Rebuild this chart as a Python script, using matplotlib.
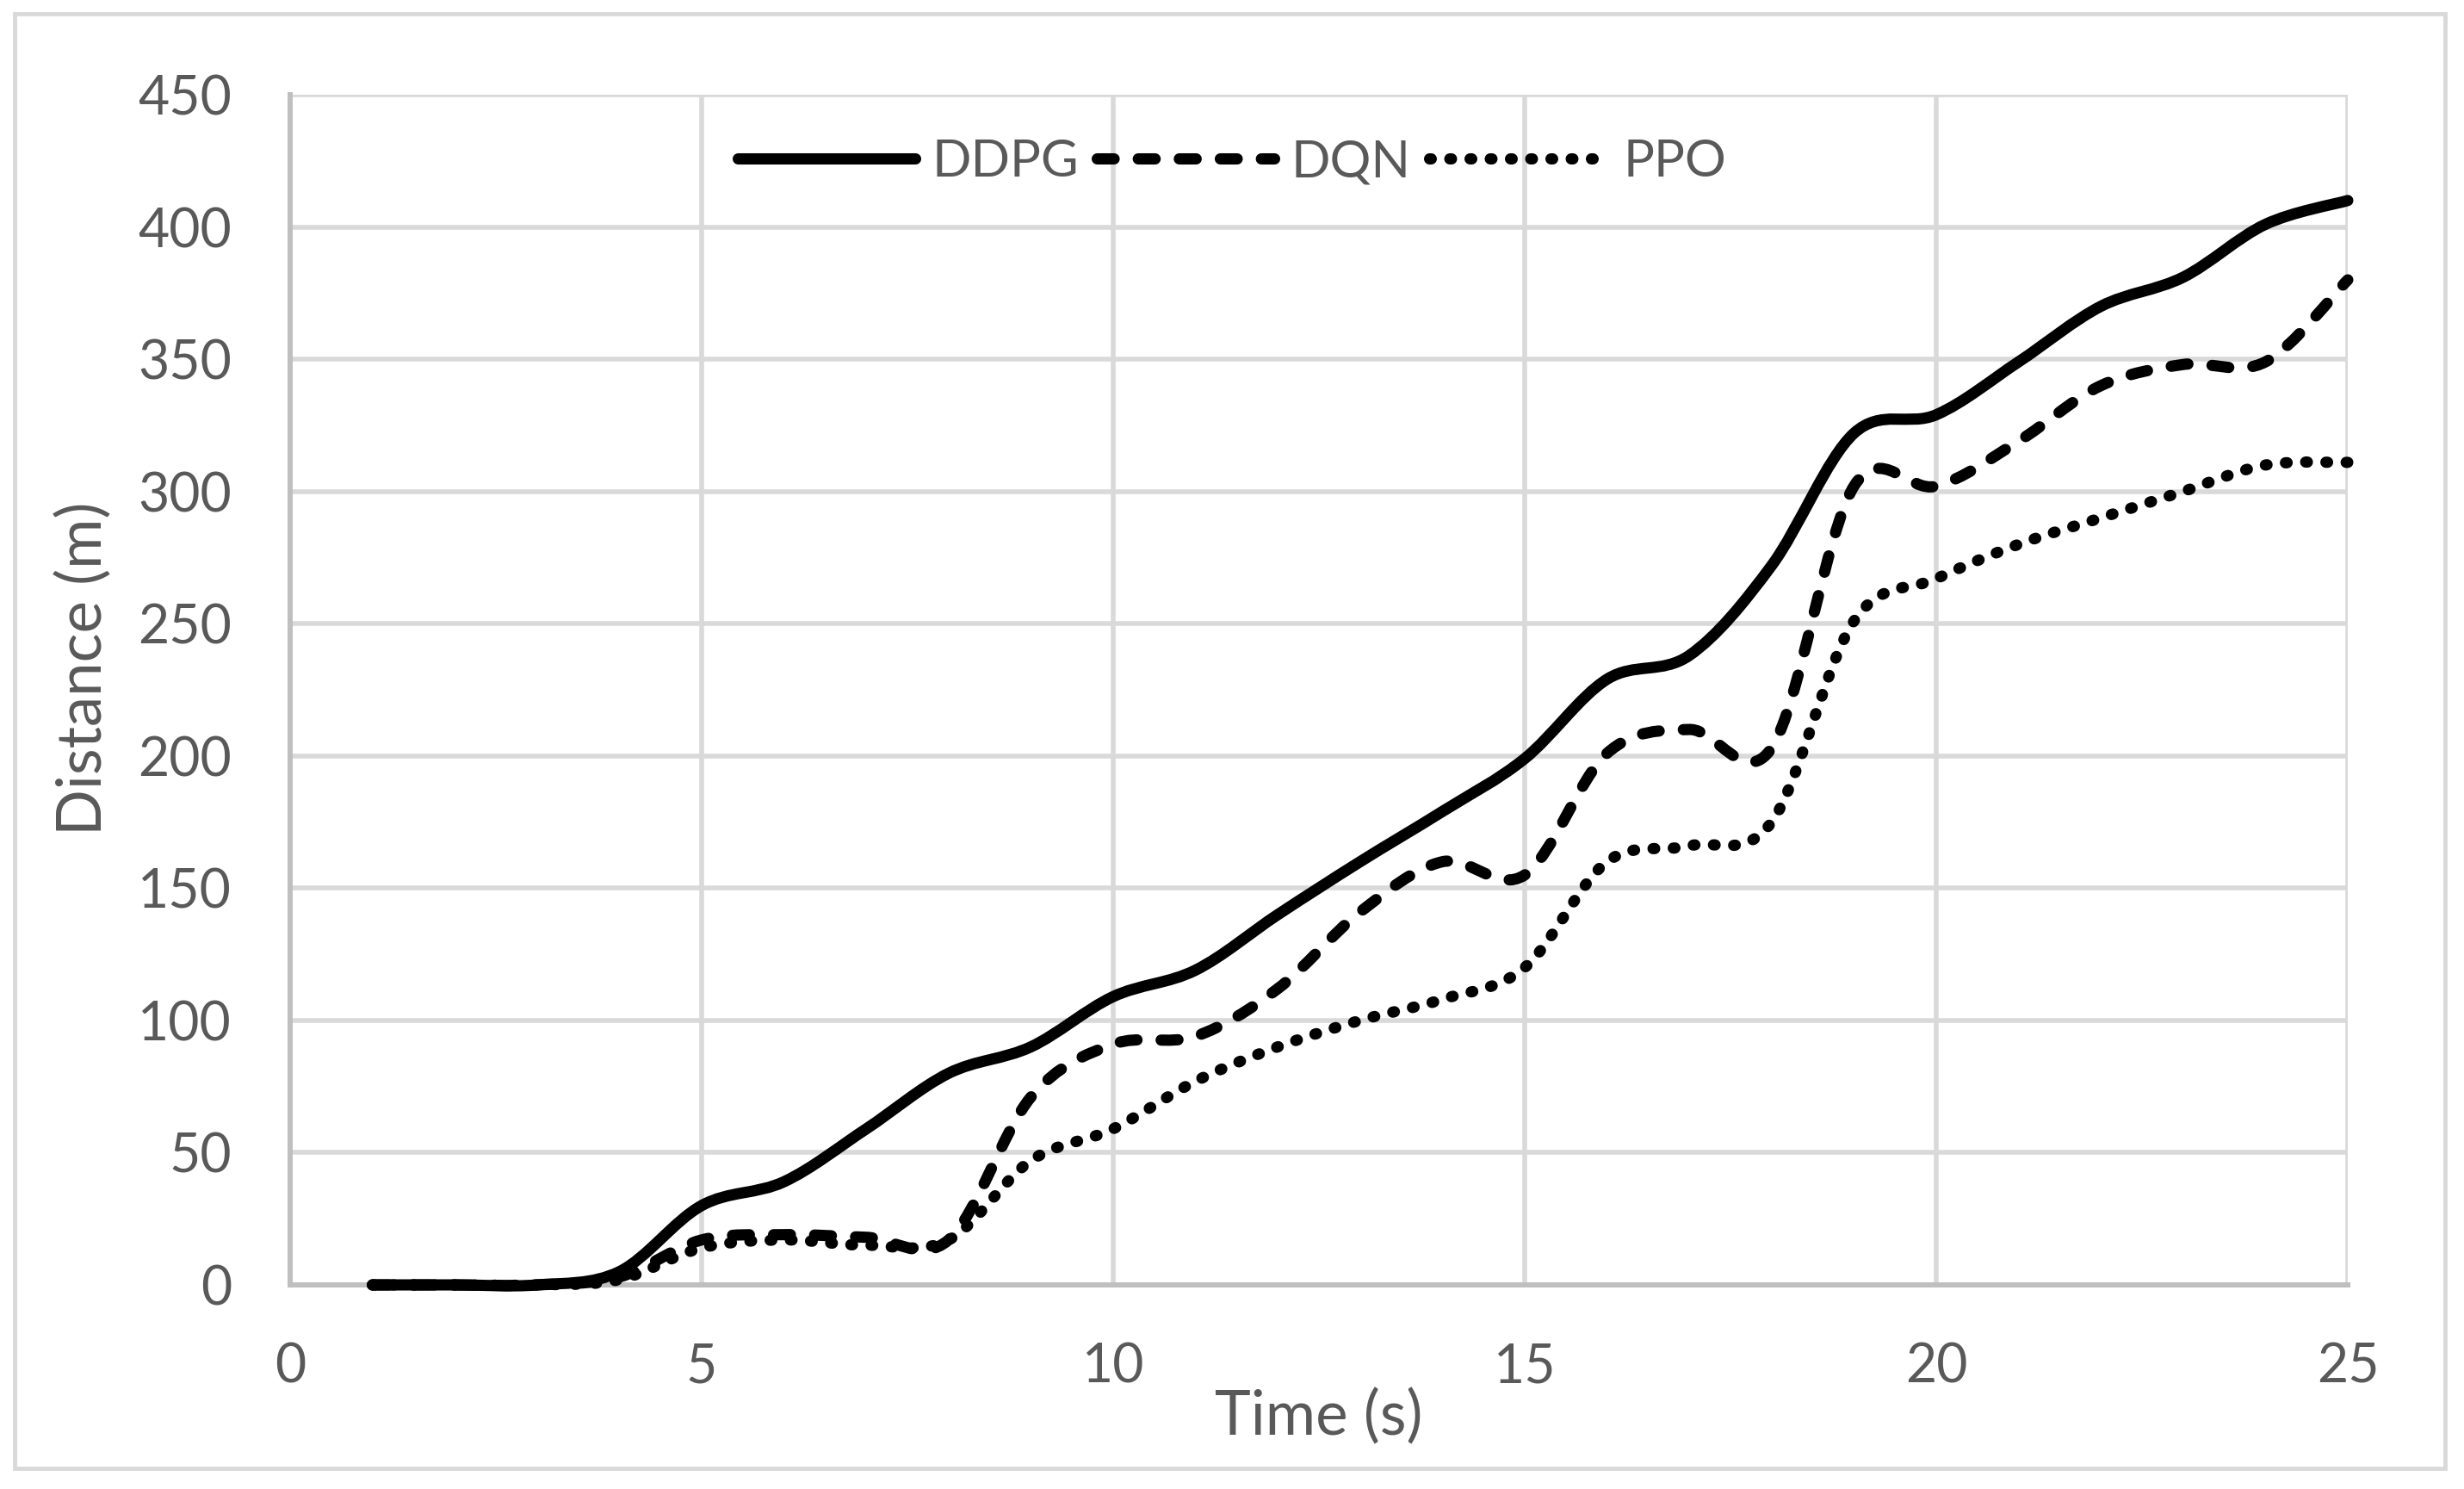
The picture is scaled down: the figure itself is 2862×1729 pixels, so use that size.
import numpy as np
import matplotlib
matplotlib.use("Agg")
import matplotlib.pyplot as plt
from matplotlib.path import Path
from matplotlib.patches import PathPatch, Rectangle
from matplotlib.lines import Line2D

plt.rcParams['font.family'] = ['Lato', 'DejaVu Sans']

# data (distance in m at each second)
time_s = np.arange(1, 26)
ddpg = [0, 0, 0, 5, 30, 39, 59, 80, 90, 109, 119, 140, 160, 179, 199,
        229, 238, 272, 322, 329, 349, 370, 381, 401, 410]
dqn = [0, 0, 0, 3, 17, 19, 18, 17, 71, 91, 94, 112, 141, 160, 155,
       201, 210, 203, 302, 302, 319, 340, 348, 349, 380]
ppo = [0, 0, 0, 2, 14, 17, 15, 17, 47, 59, 77, 90, 100, 108, 120,
       160, 166, 175, 251, 267, 280, 290, 300, 310, 311]

x_ticks = [0, 5, 10, 15, 20, 25]
y_ticks = list(range(0, 451, 50))

text_col = "#595959"
grid_col = "#D9D9D9"
axis_col = "#BFBFBF"
lw = 9.4

styles = {
    "DDPG": "-",
    "DQN": (0, (1.5, 2.15)),
    "PPO": (0, (0.15, 1.65)),
}


def smooth_path(x, y):
    # Excel-like smoothed line: cubic bezier through the data points
    pts = np.column_stack([x, y]).astype(float)
    n = len(pts)
    verts = [pts[0]]
    codes = [Path.MOVETO]
    for i in range(n - 1):
        p0 = pts[i - 1] if i > 0 else pts[i]
        p1 = pts[i]
        p2 = pts[i + 1]
        p3 = pts[i + 2] if i + 2 < n else pts[i + 1]
        verts += [p1 + (p2 - p0) / 6, p2 - (p3 - p1) / 6, p2]
        codes += [Path.CURVE4] * 3
    return Path(verts, codes)


W, H = 2862, 1729
fig = plt.figure(figsize=(W / 100, H / 100), dpi=100)
ax = fig.add_axes([337 / W, 1 - 1492 / H, (2727 - 337) / W, (1492 - 110) / H])

# chart frame
fig.patches.append(Rectangle((17 / W, 1 - 1705 / H), (2840 - 17) / W, (1705 - 16) / H,
                             transform=fig.transFigure, fill=False,
                             edgecolor=grid_col, linewidth=3.5))

handles = []
for name, vals in [("DDPG", ddpg), ("DQN", dqn), ("PPO", ppo)]:
    patch = PathPatch(smooth_path(time_s, vals), facecolor="none", edgecolor="black",
                      linewidth=lw, linestyle=styles[name],
                      capstyle="round", joinstyle="round", clip_on=False, zorder=3)
    ax.add_patch(patch)
    handles.append(Line2D([], [], color="black", linewidth=lw,
                          linestyle=styles[name],
                          dash_capstyle="round", solid_capstyle="round"))

ax.set_xlim(0, 25)
ax.set_ylim(0, 450)
ax.set_xticks(x_ticks)
ax.set_yticks(y_ticks)
ax.tick_params(axis="both", length=0, labelsize=45, labelcolor=text_col)
ax.tick_params(axis="y", pad=49)
ax.tick_params(axis="x", pad=48)

ax.grid(True, color=grid_col, linewidth=4.0)
ax.set_axisbelow(True)
for side in ["top", "right"]:
    ax.spines[side].set_visible(False)
for side in ["left", "bottom"]:
    ax.spines[side].set_color(axis_col)
    ax.spines[side].set_linewidth(4.3)
    ax.spines[side].set_zorder(1.5)

ax.set_xlabel("Time (s)", fontsize=51, color=text_col)
ax.set_ylabel("Distance (m)", fontsize=51, color=text_col)
ax.xaxis.set_label_coords(0.5, (1492 - 1612) / 1382)
ax.yaxis.set_label_coords((130 - 337) / 2390, (1492 - 776) / 1382)

fig.legend(handles, ["DDPG", "DQN", "PPO"], loc="center",
           bbox_to_anchor=(0.5, 1 - 188 / H), ncol=3, frameon=False,
           fontsize=43, handlelength=3.45, handletextpad=0.33,
           columnspacing=0.35, labelcolor=text_col)

fig.savefig("out.png", dpi=100)
